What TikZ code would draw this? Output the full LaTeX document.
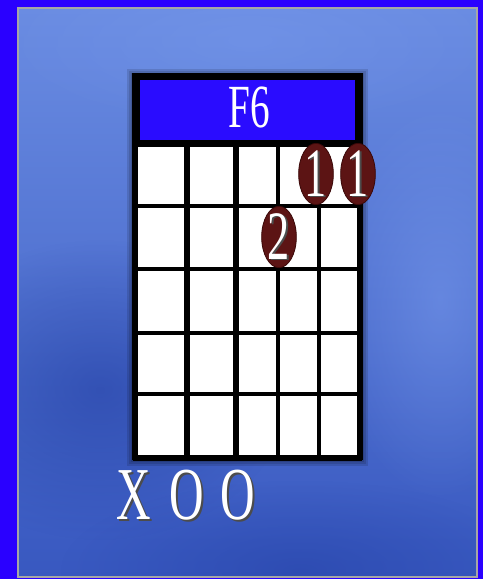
\documentclass[tikz,border=0pt]{standalone}
\usepackage{fontspec}
\newfontfamily\chordfont[FakeStretch=0.64]{Liberation Serif}
\usetikzlibrary{shapes.geometric,fadings}
\definecolor{cframe}{HTML}{2A00FF}
\definecolor{chead}{HTML}{2A0CFF}
\definecolor{cbgtop}{HTML}{6A8CE2}
\definecolor{cbgmid}{HTML}{5576D6}
\definecolor{cbgbot}{HTML}{3858C0}
\definecolor{cbgdark}{HTML}{1E3A9E}
\definecolor{cbglite}{HTML}{7A9CEE}
\definecolor{cdot}{HTML}{5C1414}
\definecolor{cdotD}{HTML}{3A0808}
\newcommand{\shtext}[1]{\makebox[0pt][l]{\kern1.2pt\raisebox{-1.2pt}{\color{black!70}#1}}#1}
\tikzfading[name=softblob, inner color=transparent!0, outer color=transparent!100]
\tikzset{
  fret/.style={line width=2.3pt},
  edge/.style={line width=4pt},
  fing/.style={ellipse, fill=cdot, draw=cdotD, line width=0.6pt,
               minimum width=26pt, minimum height=46pt, inner sep=-3pt,
               text=white, font=\chordfont\fontsize{52}{52}\selectfont},
  open/.style={text=white, inner sep=0pt,
               font=\chordfont\fontsize{56}{56}\selectfont},
  title/.style={text=white, inner sep=0pt,
                font=\chordfont\fontsize{46}{46}\selectfont},
  cloud/.style={path fading=softblob},
}

\begin{document}
\begin{tikzpicture}[x=0.75pt, y=-0.75pt]
  \useasboundingbox (0,0) rectangle (483,579);
  % frame and backdrop
  \fill[cframe] (0,0) rectangle (483,579);
  \shade[top color=cbgtop, middle color=cbgmid, bottom color=cbgbot]
     (18,8) rectangle (477,577);
  \begin{scope}
    \clip (18,8) rectangle (477,577);
    \fill[cbgdark, opacity=0.5, cloud] (100,390) ellipse (190 and 150);
    \fill[cbgdark, opacity=0.4, cloud] (300,570) ellipse (240 and 90);
    \fill[cbglite, opacity=0.5, cloud] (440,300) ellipse (110 and 200);
    \fill[cbglite, opacity=0.4, cloud] (250,40) ellipse (260 and 90);
  \end{scope}
  \draw[gray!70, line width=1pt] (18,8) rectangle (477,577);
  % soft shadow of the chart
  \foreach \d in {2,4,6}
     \fill[black, opacity=0.12] (133-\d,73-\d+2) rectangle (362+\d,460+\d);
  % header
  \fill[black] (132,73) rectangle (363,146);
  \fill[chead] (140,80) rectangle (355,140);
  \node[title] (name) at (249,107) {F6};
  % fretboard
  \fill[white] (135,143) rectangle (360,458);
  \foreach \y in {206,269,333,394}
     \draw[fret] (135,\y) -- (360,\y);
  \draw[edge] (133,144) -- (362,144);
  \draw[edge] (133,458) -- (362,458);
  \foreach \x/\w in {135/4.5,187/4.5,236/4.5,278/2.4,319/2.4,360/4}
     \draw[line width=\w pt] (\x,143) -- (\x,460);
  % fingers
  \node[fing] (f1) at (316,174) {\shtext{1}};
  \node[fing] (f2) at (358,174) {\shtext{1}};
  \node[fing] (f3) at (279,237) {\shtext{2}};
  % open and muted strings
  \node[open] (s6) at (134,496) {\shtext{X}};
  \node[open] (s5) at (187,496) {\shtext{O}};
  \node[open] (s4) at (238,496) {\shtext{O}};
\end{tikzpicture}
\end{document}
